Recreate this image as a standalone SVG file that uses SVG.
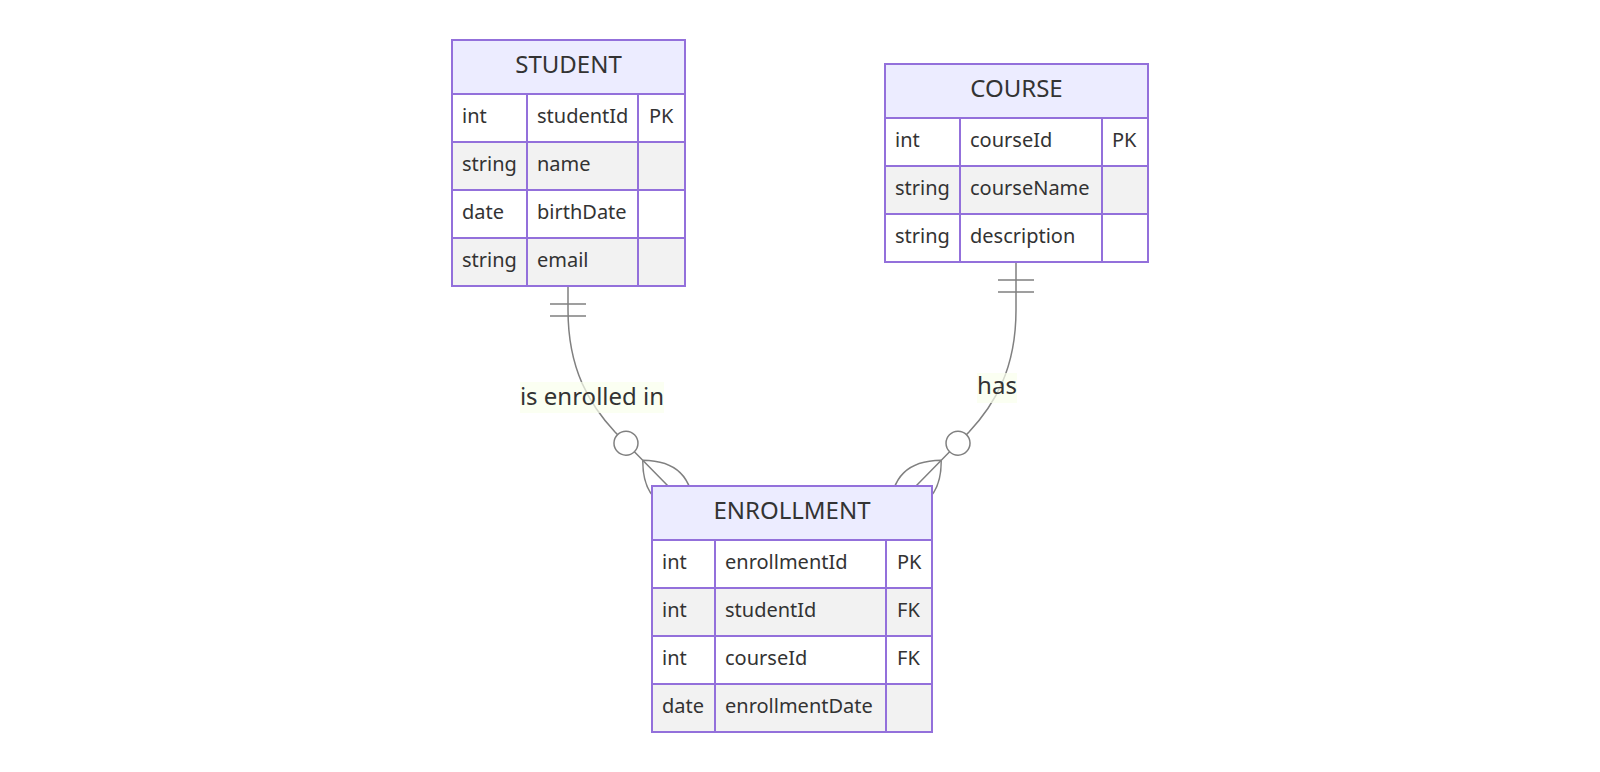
<svg xmlns="http://www.w3.org/2000/svg" width="1600" height="772" viewBox="0 0 1600 772">
<style>
  .edge { fill: none; stroke: #808080; stroke-width: 1.5; }
  .mk { fill: none; stroke: #808080; stroke-width: 0.75; }
  .mkc { fill: #ffffff; stroke: #808080; stroke-width: 0.75; }
  .lblbg { fill: #f9ffec; opacity: 0.7; }
  .lbl { font-family: "Noto Sans", "Open Sans", sans-serif; font-size: 24px; fill: #333333; text-anchor: middle; }
  .hdr { fill: #ececff; stroke: #9370db; stroke-width: 2; }
  .odd { fill: #ffffff; stroke: #9370db; stroke-width: 2; }
  .even { fill: #f2f2f2; stroke: #9370db; stroke-width: 2; }
  .title { font-family: "Noto Sans", "Open Sans", sans-serif; font-size: 24px; fill: #333333; text-anchor: middle; }
  .attr { font-family: "Noto Sans", "Open Sans", sans-serif; font-size: 20px; fill: #333333; }
</style>
<defs>
  <marker id="onlyOneStart" viewBox="0 0 18 18" markerWidth="36" markerHeight="36" refX="0" refY="9" orient="auto" markerUnits="userSpaceOnUse">
    <path class="mk" d="M9,0 L9,18 M15,0 L15,18"/>
  </marker>
  <marker id="zeroOrMoreEnd" viewBox="0 0 57 36" markerWidth="114" markerHeight="72" refX="39" refY="18" orient="auto" markerUnits="userSpaceOnUse">
    <circle class="mkc" cx="9" cy="18" r="6"/>
    <path class="mk" d="M21,18 Q39,0 57,18 Q39,36 21,18"/>
  </marker>
</defs>
<rect width="1600" height="772" fill="#ffffff"/>

<g id="connectors">
  <path class="edge" d="M568,286 L568,310 C568,370 590,405 615,432 L668,486" marker-start="url(#onlyOneStart)" marker-end="url(#zeroOrMoreEnd)"/>
  <path class="edge" d="M1016,262 L1016,310 C1016,370 994,405 969,432 L916,486" marker-start="url(#onlyOneStart)" marker-end="url(#zeroOrMoreEnd)"/>
  <g id="label-enrolled">
    <rect class="lblbg" x="520" y="382" width="144" height="31"/>
    <text class="lbl" x="592" y="404.5">is enrolled in</text>
  </g>
  <g id="label-has">
    <rect class="lblbg" x="977" y="373" width="40" height="30"/>
    <text class="lbl" x="997" y="394">has</text>
  </g>
</g>

<g id="STUDENT">
  <rect class="hdr" x="452" y="40" width="233" height="54"/>
  <text class="title" x="568.5" y="72.5">STUDENT</text>
  <rect class="odd" x="452" y="94" width="75" height="48"/>
  <rect class="odd" x="527" y="94" width="111" height="48"/>
  <rect class="odd" x="638" y="94" width="47" height="48"/>
  <rect class="even" x="452" y="142" width="75" height="48"/>
  <rect class="even" x="527" y="142" width="111" height="48"/>
  <rect class="even" x="638" y="142" width="47" height="48"/>
  <rect class="odd" x="452" y="190" width="75" height="48"/>
  <rect class="odd" x="527" y="190" width="111" height="48"/>
  <rect class="odd" x="638" y="190" width="47" height="48"/>
  <rect class="even" x="452" y="238" width="75" height="48"/>
  <rect class="even" x="527" y="238" width="111" height="48"/>
  <rect class="even" x="638" y="238" width="47" height="48"/>
  <text class="attr" x="462" y="122.5">int</text>
  <text class="attr" x="537" y="122.5">studentId</text>
  <text class="attr" x="649" y="122.5">PK</text>
  <text class="attr" x="462" y="170.5">string</text>
  <text class="attr" x="537" y="170.5">name</text>
  <text class="attr" x="462" y="218.5">date</text>
  <text class="attr" x="537" y="218.5">birthDate</text>
  <text class="attr" x="462" y="266.5">string</text>
  <text class="attr" x="537" y="266.5">email</text>
</g>

<g id="COURSE">
  <rect class="hdr" x="885" y="64" width="263" height="54"/>
  <text class="title" x="1016.5" y="96.5">COURSE</text>
  <rect class="odd" x="885" y="118" width="75" height="48"/>
  <rect class="odd" x="960" y="118" width="142" height="48"/>
  <rect class="odd" x="1102" y="118" width="46" height="48"/>
  <rect class="even" x="885" y="166" width="75" height="48"/>
  <rect class="even" x="960" y="166" width="142" height="48"/>
  <rect class="even" x="1102" y="166" width="46" height="48"/>
  <rect class="odd" x="885" y="214" width="75" height="48"/>
  <rect class="odd" x="960" y="214" width="142" height="48"/>
  <rect class="odd" x="1102" y="214" width="46" height="48"/>
  <text class="attr" x="895" y="146.5">int</text>
  <text class="attr" x="970" y="146.5">courseId</text>
  <text class="attr" x="1112" y="146.5">PK</text>
  <text class="attr" x="895" y="194.5">string</text>
  <text class="attr" x="970" y="194.5">courseName</text>
  <text class="attr" x="895" y="242.5">string</text>
  <text class="attr" x="970" y="242.5">description</text>
</g>

<g id="ENROLLMENT">
  <rect class="hdr" x="652" y="486" width="280" height="54"/>
  <text class="title" x="792" y="518.5">ENROLLMENT</text>
  <rect class="odd" x="652" y="540" width="63" height="48"/>
  <rect class="odd" x="715" y="540" width="171" height="48"/>
  <rect class="odd" x="886" y="540" width="46" height="48"/>
  <rect class="even" x="652" y="588" width="63" height="48"/>
  <rect class="even" x="715" y="588" width="171" height="48"/>
  <rect class="even" x="886" y="588" width="46" height="48"/>
  <rect class="odd" x="652" y="636" width="63" height="48"/>
  <rect class="odd" x="715" y="636" width="171" height="48"/>
  <rect class="odd" x="886" y="636" width="46" height="48"/>
  <rect class="even" x="652" y="684" width="63" height="48"/>
  <rect class="even" x="715" y="684" width="171" height="48"/>
  <rect class="even" x="886" y="684" width="46" height="48"/>
  <text class="attr" x="662" y="568.5">int</text>
  <text class="attr" x="725" y="568.5">enrollmentId</text>
  <text class="attr" x="897" y="568.5">PK</text>
  <text class="attr" x="662" y="616.5">int</text>
  <text class="attr" x="725" y="616.5">studentId</text>
  <text class="attr" x="897" y="616.5">FK</text>
  <text class="attr" x="662" y="664.5">int</text>
  <text class="attr" x="725" y="664.5">courseId</text>
  <text class="attr" x="897" y="664.5">FK</text>
  <text class="attr" x="662" y="712.5">date</text>
  <text class="attr" x="725" y="712.5">enrollmentDate</text>
</g>
</svg>
